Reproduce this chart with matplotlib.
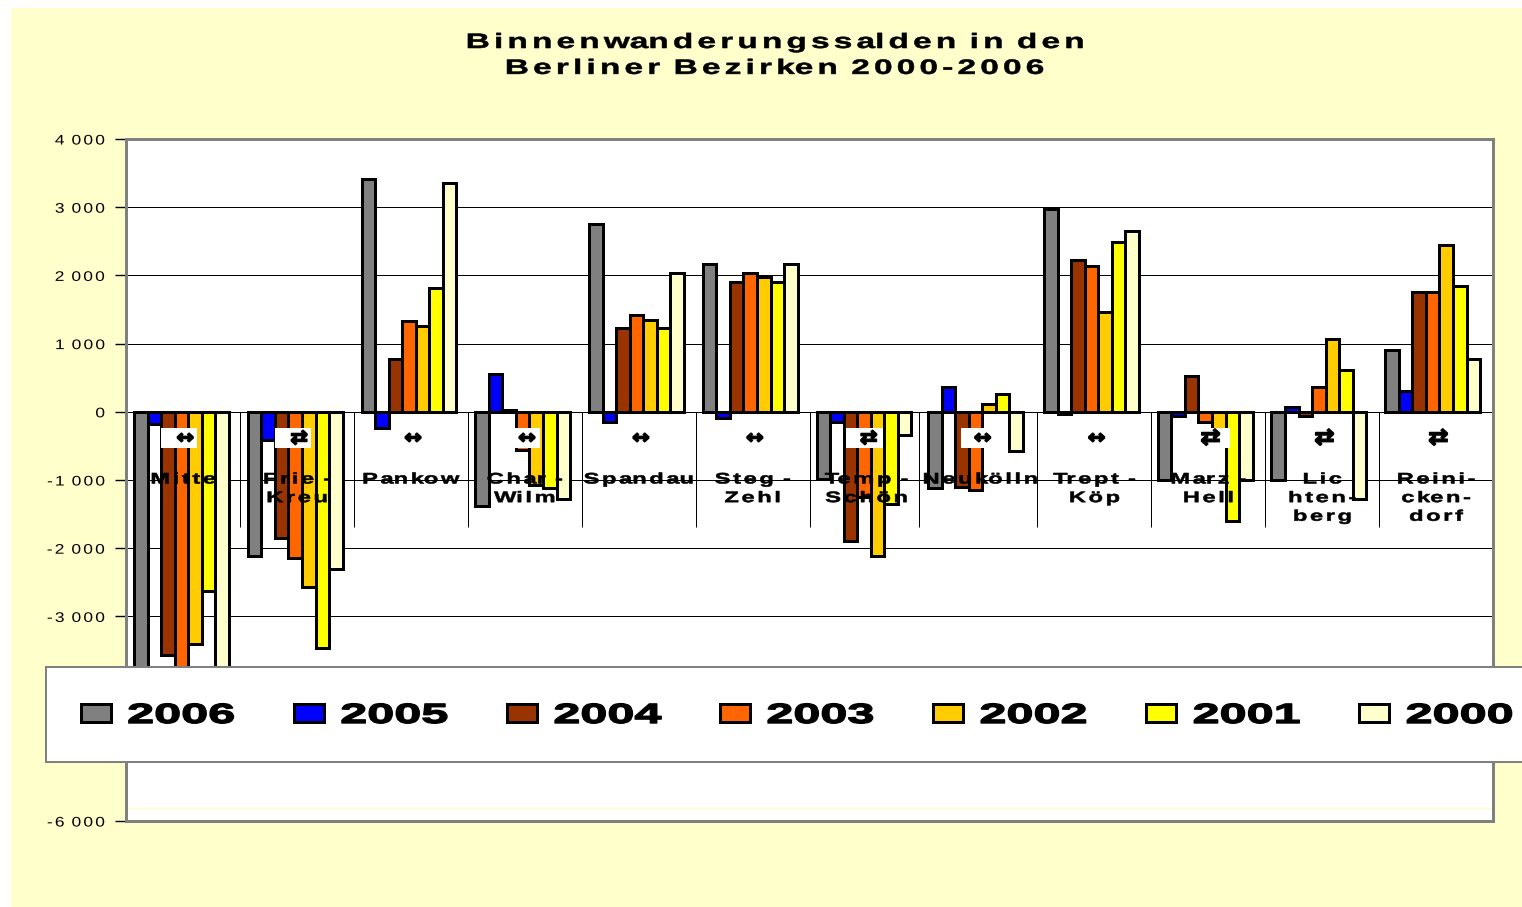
import matplotlib
matplotlib.use("Agg")
import matplotlib.pyplot as plt
import matplotlib.patheffects as pe
from matplotlib.patches import Rectangle
from matplotlib.path import Path
from matplotlib.transforms import IdentityTransform
import numpy as np

W, H = 1522, 907
plt.rcParams['font.family'] = ['Liberation Sans', 'DejaVu Sans']

categories = ["Mitte", "Frie -\nKreu", "Pankow", "Char -\nWilm", "Spandau", "Steg -\nZehl",
              "Temp -\nSchön", "Neukölln", "Trept -\nKöp", "Marz -\nHell", "Lic\nhten-\nberg",
              "Reini-\ncken-\ndorf"]
years = ["2006", "2005", "2004", "2003", "2002", "2001", "2000"]
v2006 = [-4000, -2110, 3420, -1375, 2750, 2170, -980, -1120, 2980, -1000, -1000, 900]
v2005 = [-180, -410, -240, 550, -150, -90, -150, 370, -30, -60, 70, 300]
v2004 = [-3570, -1850, 780, 30, 1230, 1900, -1890, -1100, 2230, 520, -60, 1750]
v2003 = [-3900, -2140, 1330, -560, 1420, 2040, -1250, -1140, 2140, -150, 360, 1750]
v2002 = [-3400, -2570, 1260, -1080, 1350, 1970, -2110, 110, 1460, -330, 1070, 2450]
v2001 = [-2630, -3460, 1810, -1110, 1230, 1900, -1350, 265, 2490, -1600, 620, 1840]
v2000 = [-4000, -2300, 3360, -1280, 2040, 2170, -340, -570, 2650, -1000, -1280, 780]
series = [v2006, v2005, v2004, v2003, v2002, v2001, v2000]
colors = ["#808080", "#0000FF", "#993300", "#FF6600", "#FFCC00", "#FFFF00", "#FFFFCC"]
yticks = [4000, 3000, 2000, 1000, 0, -1000, -2000, -3000, -4000, -5000, -6000]
yticklabels = ["4 000", "3 000", "2 000", "1 000", "0", "-1 000", "-2 000", "-3 000", "-4 000", "-5 000", "-6 000"]
title = "Binnenwanderungssalden in den\nBerliner Bezirken 2000-2006"
big_arrow = [9, 10, 11]
double_arrow = [1, 6, 9, 10, 11]


class Stretch(pe.AbstractPathEffect):
    """Widen a line of text (glyph stretch plus letter tracking) about an anchor."""
    def __init__(self, sx, anchor="center", track=0.0, stroke=0.0):
        super().__init__()
        self.sx, self.anchor, self.track, self.stroke = sx, anchor, track, stroke

    def draw_path(self, renderer, gc, tpath, affine, rgbFace=None):
        v = affine.transform(tpath.vertices).copy()
        codes = tpath.codes
        starts = list(np.nonzero(codes == Path.MOVETO)[0]) + [len(v)]
        parts = [(v[a:b, 0].min(), v[a:b, 0].max(), a, b) for a, b in zip(starts[:-1], starts[1:]) if b > a]
        parts.sort()
        x_old = v[:, 0].copy()
        k, end = -1, -1e18
        new = v.copy()
        for lo, hi, a, b in parts:
            if lo >= end - 0.01:
                k += 1
            end = max(end, hi)
            new[a:b, 0] = x_old[a:b] * self.sx + k * self.track
        o0, o1 = x_old.min(), x_old.max()
        n0, n1 = new[:, 0].min(), new[:, 0].max()
        shift = {"left": o0 - n0, "center": (o0 + o1 - n0 - n1) / 2, "right": o1 - n1}[self.anchor]
        new[:, 0] += shift
        p = Path(new, codes)
        if self.stroke and rgbFace is not None:
            g = renderer.new_gc()
            g.copy_properties(gc)
            g.set_linewidth(self.stroke)
            g.set_foreground(rgbFace)
            renderer.draw_path(g, p, IdentityTransform(), rgbFace)
            g.restore()
        else:
            renderer.draw_path(gc, p, IdentityTransform(), rgbFace)


fig = plt.figure(figsize=(W / 100, H / 100), dpi=100, facecolor="white")
fig.add_artist(Rectangle((11 / W, 0), 1 - 11 / W, (H - 8) / H, transform=fig.transFigure,
                         fc="#FFFFCC", ec="none", zorder=-10))
ax = fig.add_axes([126 / W, (H - 821) / H, 1367 / W, 682 / H], facecolor="white")
ax.set_xlim(0, 12)
ax.set_ylim(-6000, 4000)

px = 0.72
ax.hlines([3000, 2000, 1000, 0, -1000, -2000, -3000], 0, 12, color="black", lw=1.0 * px, zorder=1)
ax.axhline(-5810, color="#FFFFCC", lw=1.4 * px, zorder=1)

n = len(years)
bw = 0.119
idx = np.arange(len(categories))
# the source picture's Neukölln group sits slightly left of the regular grid
x = idx.astype(float)
x[7] -= 0.02
seps = idx[1:].astype(float)
seps[6] -= 0.035
ax.vlines(seps, -1690, 0, color="black", lw=1.0 * px, zorder=1)
for i, (vals, c, y) in enumerate(zip(series, colors, years)):
    ax.bar(x * 0.9985 + 0.487 + (i - (n - 1) / 2) * bw, vals, width=bw, color=c, edgecolor="black",
           lw=3 * px, label=y, zorder=2)

# white label backgrounds (left, right pixel columns in the picture)
for lo, hi in [(161, 197), (275, 311), (513, 540), (846, 883), (961, 1000), (1199, 1230)]:
    ax.add_patch(Rectangle(((lo - 126) / 113.92, -530), (hi - lo) / 113.92, 290, fc="white", ec="none", zorder=3))

for i in idx:
    ch = "\u21C4" if i in double_arrow else "\u2194"
    ax.text(idx[i] + 0.52, -385, ch, ha="center", va="center", fontsize=16 if i in big_arrow else 14,
            fontweight="bold", family="DejaVu Sans", color="black", zorder=3.5,
            path_effects=[Stretch(1.1, stroke=1.0)])
    ax.text(idx[i] + 0.5, -890, categories[i], ha="center", va="top", fontsize=11, fontweight="bold",
            linespacing=1.42, zorder=3.5, clip_on=False, path_effects=[Stretch(1.55, track=2.6, stroke=0.4)])

ax.set_xticks([])
ax.set_yticks(yticks)
ax.set_yticklabels(yticklabels, fontsize=10)
ax.tick_params(axis="y", length=8, width=1.4 * px, color="black", pad=10 * 0.72)
for t in ax.get_yticklabels():
    t.set_path_effects([Stretch(1.25, "right", track=2.2)])
for s in ax.spines.values():
    s.set_color("#808080")
    s.set_linewidth(3 * px)

ax.add_patch(Rectangle((46 / W, (H - 762) / H), 1.0, 95 / H, transform=fig.transFigure, clip_on=False,
                       fc="white", ec="#808080", lw=2 * px, zorder=4.5))
leg = ax.legend(loc="lower left", bbox_to_anchor=(46 / W, (H - 764) / H), bbox_transform=fig.transFigure,
                borderaxespad=0, borderpad=1.26, frameon=False, ncols=7,
                prop={"size": 20, "weight": "bold"}, handlelength=1.08, handleheight=0.61,
                handletextpad=0.58, columnspacing=3.78)
leg.set_zorder(5)
for t in leg.get_texts():
    t.set_path_effects([Stretch(1.75, "left", stroke=1.0)])

fig.text(775 / W, 1 - 33 / H, title, ha="center", va="top", fontsize=15, fontweight="bold",
         linespacing=1.46, path_effects=[Stretch(1.6, track=4.2, stroke=0.4)])

fig.savefig("out.png", dpi=100)
